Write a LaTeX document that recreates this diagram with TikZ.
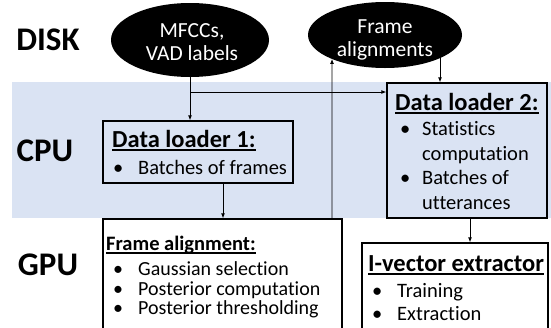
\documentclass[tikz,border=0pt]{standalone}
\usepackage{fontspec}
\setmainfont{Carlito}[Ligatures={NoCommon}]
\usetikzlibrary{arrows.meta,shapes.geometric,intersections,calc}
\pgfdeclarelayer{band}
\pgfdeclarelayer{edges}
\pgfsetlayers{band,edges,main}
\definecolor{bandblue}{HTML}{DAE3F3}
\newcommand\ulin[1]{\setbox0\hbox{#1}\rlap{\rule[-3.8pt]{\wd0}{1.4pt}}\box0}
\begin{document}
\begin{tikzpicture}[x=1pt,y=-1pt,
  lab/.style={font=\fontsize{33}{38}\selectfont\bfseries, inner sep=0},
  disk/.style={ellipse, fill=black, inner sep=0},
  disktxt/.style={text=white, inner sep=0, align=center, font=\fontsize{21.5}{23}\selectfont},
  box/.style={draw=black, line width=1.3pt, inner sep=0},
  ttl/.style={font=\fontsize{24.5}{28}\selectfont\bfseries, anchor=base west, inner sep=0},
  ttls/.style={font=\fontsize{20.5}{24}\selectfont\bfseries, anchor=base west, inner sep=0},
  itm/.style={font=\fontsize{20.5}{24}\selectfont, anchor=base west, inner sep=0},
  itms/.style={font=\fontsize{20}{22}\selectfont, anchor=base west, inner sep=0},
  arr/.style={line width=0.9pt, -{Latex[length=5pt,width=4pt]}}]
\path[use as bounding box] (0,0) rectangle (551,327);
\clip (0,0) rectangle (551,327);
\begin{pgfonlayer}{band}
\fill[bandblue] (12,82) rectangle (551,218);
\end{pgfonlayer}
% layer labels
\node[lab] (disk) at (48,40) {DISK};
\node[lab] (cpu) at (45,151) {CPU};
\node[lab] (gpu) at (48,265) {GPU};
% data on disk
\node[disk, minimum width=158, minimum height=74] (e1) at (190,40) {};
\node[disktxt] (e1t) at (192,42) {MFCCs,\\VAD labels};
\node[disk, minimum width=154, minimum height=66] (e2) at (385,35) {};
\node[disktxt] (e2t) at (385,40) {Frame\\alignments};
% boxes
\node[box, minimum width=190, minimum height=62] (dl1) at (198,152) {};
\node[box, minimum width=160, minimum height=135] (dl2) at (467,150.5) {};
\node[box, minimum width=239, minimum height=130] (fa) at (222.5,284) {};
\node[box, minimum width=186, minimum height=110] (iv) at (455,298) {};
% texts
\node[ttl] (dl1t) at (112,147) {\ulin{Data loader 1:}};
\node[itm] (dl1a) at (113,174) {\makebox[25pt][l]{\textbullet}Batches of frames};
\node[ttl] (dl2t) at (395,110) {\ulin{Data loader 2:}};
\node[itm] (dl2a) at (400,135) {\makebox[22pt][l]{\textbullet}Statistics};
\node[itm] (dl2b) at (422,160) {computation};
\node[itm] (dl2c) at (400,184) {\makebox[22pt][l]{\textbullet}Batches of};
\node[itm] (dl2d) at (422,209) {utterances};
\node[ttls] (fat) at (106,250) {\ulin{Frame alignment:}};
\node[itms] (faa) at (113,275) {\makebox[25pt][l]{\textbullet}Gaussian selection};
\node[itms] (fab) at (113,295) {\makebox[25pt][l]{\textbullet}Posterior computation};
\node[itms] (fac) at (113,314) {\makebox[25pt][l]{\textbullet}Posterior thresholding};
\node[ttl] (ivt) at (368,271) {\ulin{I-vector extractor}};
\node[itm] (iva) at (372,297) {\makebox[25pt][l]{\textbullet}Training};
\node[itm] (ivb) at (372,320) {\makebox[25pt][l]{\textbullet}Extraction};
% connectors
\coordinate (j1) at (e1.south |- 0,92);
\coordinate (a2) at (dl2.north -| 440,0);
\coordinate (a5) at (dl1.south -| 223,0);
\coordinate (a6) at (fa.north -| 332,0);
\coordinate (a7) at (dl2.south -| 470,0);
\path[name path=vline] (a6) -- (332,0);
\path[name path=ell] (e2.center) ellipse [x radius=77, y radius=33];
\begin{pgfonlayer}{edges}
\draw[arr] (e1.south) -- (e1.south |- dl1.north);
\draw[arr] (j1) -- (j1 -| dl2.west);
\draw[arr] (e2.center -| a2) -- (a2);
\draw[arr] (a5) -- (a5 |- fa.north);
\draw[arr] (a7) -- (a7 |- iv.north);
\draw[arr, name intersections={of=vline and ell}] (a6) -- (intersection-1);
\end{pgfonlayer}
\end{tikzpicture}
\end{document}
